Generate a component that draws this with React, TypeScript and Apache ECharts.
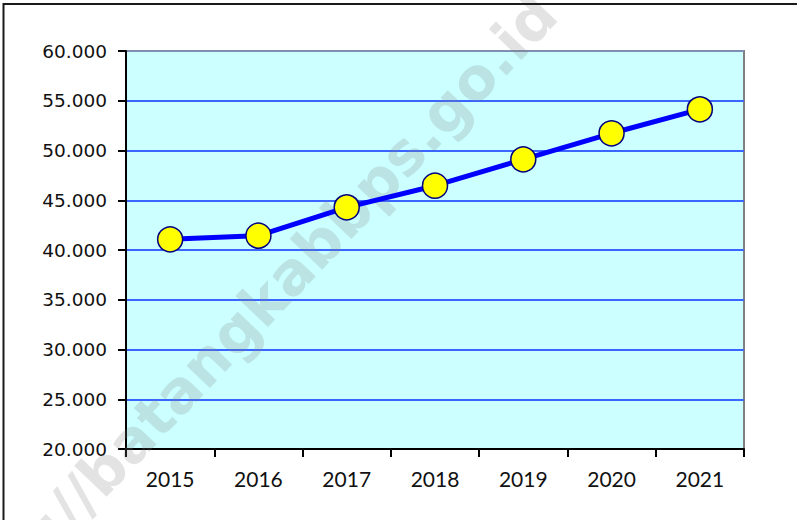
import React, { useEffect, useRef } from "react";
import * as echarts from "echarts";

const years = ["2015", "2016", "2017", "2018", "2019", "2020", "2021"];
const values = [41070, 41440, 44290, 46460, 49110, 51730, 54140];
const yMin = 20000;
const yMax = 60000;
const yStep = 5000;
const watermark = "https://batangkabbps.go.id";

function fmt(v: number): string {
  return String(v).replace(/\B(?=(\d{3})+(?!\d))/g, ".");
}

export default function App() {
  const ref = useRef<HTMLDivElement>(null);
  useEffect(() => {
    document.body.style.margin = "0";
    const chart = echarts.init(ref.current!, null, { renderer: "svg" });
    const nLines = (yMax - yMin) / yStep + 1;
    const lineColors = Array.from({ length: nLines }, (_, i) =>
      i === nLines - 1 ? "#7f8fb0" : "#3a66ff"
    );
    chart.setOption({
      animation: false,
      backgroundColor: "#ffffff",
      grid: {
        left: 126,
        top: 51,
        right: 53,
        bottom: 71,
        show: true,
        backgroundColor: "#ccffff",
        borderColor: "#808080",
        borderWidth: 2,
      },
      graphic: [
        {
          type: "rect",
          z: 100,
          silent: true,
          shape: { x: 3.5, y: 4, width: 820, height: 540 },
          style: { fill: "none", stroke: "#1a1a1a", lineWidth: 2 },
        },
        {
          type: "text",
          z: 1,
          silent: true,
          x: 546,
          y: 4,
          rotation: (46.5 * Math.PI) / 180,
          style: {
            text: watermark,
            fontFamily: "DejaVu Sans",
            fontWeight: "bold",
            fontSize: 59,
            fill: "rgba(128,128,128,0.22)",
            align: "right",
            verticalAlign: "middle",
          },
        },
      ],
      xAxis: {
        type: "category",
        data: years,
        boundaryGap: true,
        axisLine: { show: true, lineStyle: { color: "#000", width: 2 } },
        axisTick: {
          show: true,
          alignWithLabel: false,
          length: 8,
          lineStyle: { color: "#000", width: 2 },
        },
        axisLabel: {
          margin: 19,
          fontFamily: "Lato",
          fontSize: 21,
          color: "#111",
        },
        splitLine: { show: false },
      },
      yAxis: {
        type: "value",
        min: yMin,
        max: yMax,
        interval: yStep,
        axisLine: { show: true, lineStyle: { color: "#000", width: 2 } },
        axisTick: {
          show: true,
          length: 8,
          lineStyle: { color: "#000", width: 2 },
        },
        axisLabel: {
          margin: 19,
          fontFamily: "DejaVu Sans",
          fontSize: 18.5,
          color: "#111",
          formatter: (v: number) => fmt(v),
        },
        splitLine: {
          show: true,
          lineStyle: { color: lineColors, width: 2 },
        },
      },
      series: [
        {
          type: "line",
          data: values,
          z: 5,
          symbol: "circle",
          symbolSize: 25,
          lineStyle: { color: "#0000ff", width: 5 },
          itemStyle: { color: "#ffff00", borderColor: "#000080", borderWidth: 1.5 },
        },
      ],
    });
    return () => chart.dispose();
  }, []);
  return (
    <div
      ref={ref}
      style={{ position: "fixed", left: 0, top: 0, width: 797, height: 520 }}
    />
  );
}
